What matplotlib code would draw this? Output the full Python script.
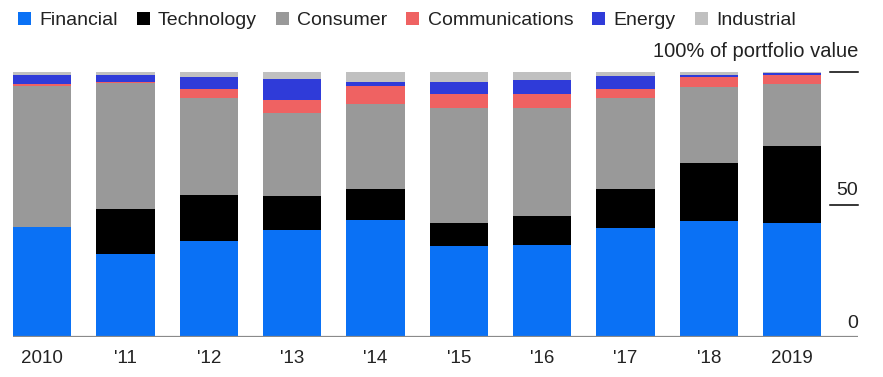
import numpy as np
import matplotlib
matplotlib.use('Agg')
import matplotlib.pyplot as plt
from matplotlib.patches import Patch
import matplotlib.transforms as mtransforms

anos = ['2010', "'11", "'12", "'13", "'14", "'15", "'16", "'17", "'18", '2019']
setores = ['Financial', 'Technology', 'Consumer', 'Communications', 'Energy', 'Industrial']
cores = ['#0a71f5', '#000000', '#999999', '#ef6262', '#2f3bd9', '#c0c0c0']

financial = [41.7, 31.3, 36.4, 40.6, 44.3, 34.4, 34.9, 41.2, 43.8, 43.2]
technology = [0.0, 17.1, 17.2, 12.7, 11.5, 8.8, 10.9, 14.6, 21.9, 28.8]
consumer = [53.1, 47.3, 36.7, 31.1, 32.3, 43.3, 40.7, 34.5, 28.8, 23.5]
communications = [0.6, 0.4, 3.4, 5.1, 6.8, 5.3, 5.3, 3.4, 3.5, 3.5]
energy = [3.4, 2.9, 4.3, 7.8, 1.5, 4.5, 5.1, 4.9, 1.0, 0.8]
industrial = [1.2, 1.0, 2.0, 2.6, 3.6, 3.7, 3.0, 1.4, 1.0, 0.2]

series = [financial, technology, consumer, communications, energy, industrial]

plt.rcParams['font.family'] = ['Liberation Sans', 'DejaVu Sans']

fig = plt.figure(figsize=(8.83, 3.77), dpi=100)
ax = fig.add_axes([13 / 883, (377 - 337.3) / 377, 845 / 883, (337.3 - 72) / 377])

x = np.arange(len(anos))
base = np.zeros(len(anos))
for nome, vals, cor in zip(setores, series, cores):
    vals = np.array(vals)
    ax.bar(x, vals, bottom=base, width=0.7, color=cor, edgecolor='none')
    base += vals

ax.set_xlim(-0.35, 9.79)
ax.set_ylim(0, 100)

for s in ax.spines.values():
    s.set_visible(False)
ax.axhline(0, color='#8a8a8a', lw=1.6, zorder=5)

ax.set_xticks(x)
ax.set_xticklabels(anos, fontsize=13.5, color='#222222')
ax.tick_params(axis='x', length=0, pad=9)
ax.set_yticks([])

# marcas do eixo y a direita
trans = mtransforms.blended_transform_factory(ax.transAxes, ax.transData)
x0 = (830 - 13) / 845
for v in [100, 50]:
    ax.plot([x0, 1.0], [v, v], color='black', lw=1.1, transform=trans, clip_on=False)
ax.text(1.0, 52, '50', transform=trans, ha='right', va='bottom', fontsize=14, color='#222222')
ax.text(1.0, 2, '0', transform=trans, ha='right', va='bottom', fontsize=14, color='#222222')
ax.text(1.0, 104, '100% of portfolio value', transform=trans, ha='right', va='bottom',
        fontsize=14.5, color='#222222')

handles = [Patch(facecolor=c, edgecolor='none', label=n) for n, c in zip(setores, cores)]
fig.legend(handles=handles, loc='upper left', bbox_to_anchor=(0.007, 1.0), ncol=6,
           frameon=False, fontsize=14, handlelength=0.67, handleheight=0.67,
           handletextpad=0.42, columnspacing=0.98, borderaxespad=0.3,
           borderpad=0.3, labelcolor='#222222')

fig.savefig('out.png', dpi=100)
